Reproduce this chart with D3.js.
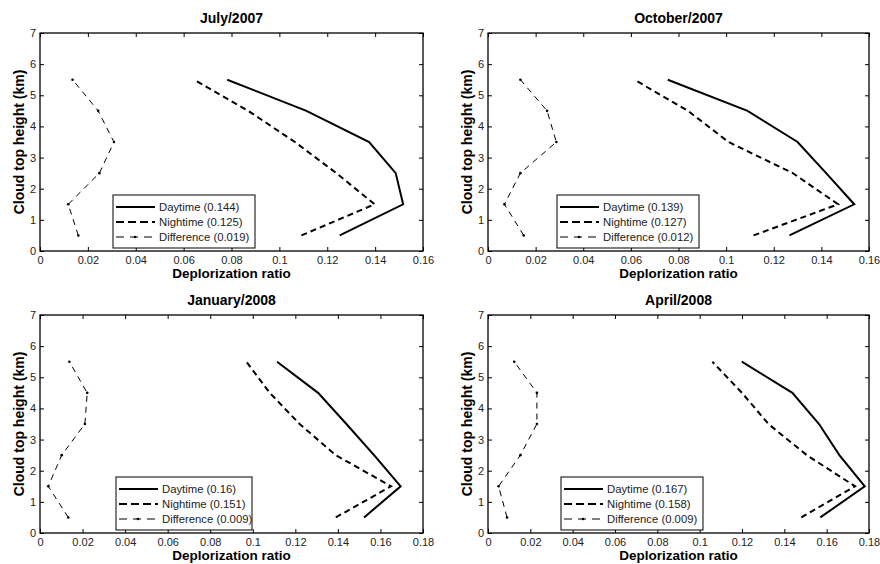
<!DOCTYPE html>
<html><head><meta charset="utf-8">
<script src="https://cdn.jsdelivr.net/npm/d3@7"></script>
<style>body{margin:0;background:#fff}svg{display:block;font-family:"Liberation Sans",Arial,sans-serif}</style>
</head><body><svg id="c" width="880" height="564"></svg>
<script>
const heights = [0.5, 1.5, 2.5, 3.5, 4.5, 5.5];
const titles = ["July/2007", "October/2007", "January/2008", "April/2008"];
const xMax = [0.16, 0.16, 0.18, 0.18];
const day = [
  [0.1252, 0.1517, 0.1486, 0.1375, 0.1113, 0.0782],
  [0.1266, 0.1538, 0.1420, 0.1300, 0.1090, 0.0755],
  [0.1523, 0.1695, 0.1570, 0.1440, 0.1307, 0.1114],
  [0.1570, 0.1780, 0.1660, 0.1564, 0.1438, 0.1199]
];
const night = [
  [0.1092, 0.1398, 0.1238, 0.1065, 0.0870, 0.0644],
  [0.1115, 0.1470, 0.1280, 0.1010, 0.0840, 0.0615],
  [0.1390, 0.1650, 0.1390, 0.1220, 0.1080, 0.0970],
  [0.1480, 0.1734, 0.1506, 0.1325, 0.1200, 0.1060]
];
const diff = [
  [0.0160, 0.0118, 0.0248, 0.0309, 0.0243, 0.0136],
  [0.0150, 0.0069, 0.0136, 0.0287, 0.0248, 0.0136],
  [0.0133, 0.0039, 0.0102, 0.0211, 0.0222, 0.0138],
  [0.0090, 0.0050, 0.0153, 0.0231, 0.0231, 0.0124]
];
const legendLabels = [
  ["Daytime (0.144)", "Nightime (0.125)", "Difference (0.019)"],
  ["Daytime (0.139)", "Nightime (0.127)", "Difference (0.012)"],
  ["Daytime (0.16)", "Nightime (0.151)", "Difference (0.009)"],
  ["Daytime (0.167)", "Nightime (0.158)", "Difference (0.009)"]
];
const yTicks = [0, 1, 2, 3, 4, 5, 6, 7];

const svg = d3.select("#c");
const panels = [
  {x0: 40, x1: 423, y0: 33, y1: 251, lx: 113, ly: 195, lw: 142},
  {x0: 488, x1: 869, y0: 33, y1: 251, lx: 557, ly: 195, lw: 142},
  {x0: 40, x1: 423, y0: 315, y1: 533, lx: 116, ly: 477, lw: 136},
  {x0: 488, x1: 869, y0: 315, y1: 533, lx: 561, ly: 477, lw: 142}
];
const styles = [
  {w: 2, dash: null},
  {w: 2, dash: "6,4"},
  {w: 1, dash: "6,5"}
];

panels.forEach((p, i) => {
  const x = d3.scaleLinear().domain([0, xMax[i]]).range([p.x0, p.x1]);
  const y = d3.scaleLinear().domain([0, 7]).range([p.y1, p.y0]);
  const g = svg.append("g");
  const xt = d3.range(0, xMax[i] + 1e-9, 0.02);
  const fmt = v => (Math.abs(v) < 1e-9 ? "0" : String(+v.toFixed(2)));

  const axB = d3.axisBottom(x).tickValues(xt).tickSize(-4).tickPadding(5).tickFormat(fmt);
  const axT = d3.axisTop(x).tickValues(xt).tickSize(-4).tickFormat("");
  const axL = d3.axisLeft(y).tickValues(yTicks).tickSize(-4).tickPadding(4).tickFormat(d3.format("d"));
  const axR = d3.axisRight(y).tickValues(yTicks).tickSize(-4).tickFormat("");
  [[axB, `translate(0,${p.y1})`], [axT, `translate(0,${p.y0})`], [axL, `translate(${p.x0},0)`], [axR, `translate(${p.x1},0)`]].forEach(([ax, tr]) => {
    const a = g.append("g").attr("transform", tr).call(ax);
    a.select(".domain").remove();
    a.selectAll("line").attr("stroke", "#000").attr("stroke-width", 1);
    a.selectAll("text").attr("font-size", 11).attr("fill", "#222").attr("font-family", "Liberation Sans, Arial, sans-serif");
  });
  g.append("rect").attr("x", p.x0).attr("y", p.y0).attr("width", p.x1 - p.x0).attr("height", p.y1 - p.y0)
    .attr("fill", "none").attr("stroke", "#000").attr("stroke-width", 1.3);

  const series = [day[i], night[i], diff[i]];
  const line = d3.line().x(d => x(d[0])).y(d => y(d[1]));
  series.forEach((s, k) => {
    const pts = s.map((v, j) => [v, heights[j]]);
    g.append("path").attr("d", line(pts)).attr("fill", "none").attr("stroke", "#000")
      .attr("stroke-width", styles[k].w).attr("stroke-dasharray", styles[k].dash)
      .attr("stroke-linejoin", "miter");
    if (k === 2) {
      g.selectAll(null).data(pts).enter().append("circle")
        .attr("cx", d => x(d[0])).attr("cy", d => y(d[1])).attr("r", 1.3).attr("fill", "#000");
    }
  });

  const cx = (p.x0 + p.x1) / 2;
  g.append("text").attr("x", cx).attr("y", p.y0 - 10).attr("text-anchor", "middle")
    .attr("font-size", 14).attr("font-weight", "bold").text(titles[i]);
  g.append("text").attr("x", cx).attr("y", p.y1 + 26.5).attr("text-anchor", "middle")
    .attr("font-size", 13.5).attr("font-weight", "bold").text("Deplorization ratio");
  g.append("text").attr("transform", `translate(${p.x0 - 16},${(p.y0 + p.y1) / 2}) rotate(-90)`)
    .attr("text-anchor", "middle").attr("font-size", 14).attr("font-weight", "bold").text("Cloud top height (km)");

  const lg = g.append("g");
  lg.append("rect").attr("x", p.lx).attr("y", p.ly).attr("width", p.lw).attr("height", 53)
    .attr("fill", "#fff").attr("stroke", "#000").attr("stroke-width", 1);
  legendLabels[i].forEach((t, k) => {
    const yy = p.ly + 12 + k * 15;
    lg.append("line").attr("x1", p.lx + 3).attr("x2", p.lx + 42).attr("y1", yy).attr("y2", yy)
      .attr("stroke", "#000").attr("stroke-width", styles[k].w).attr("stroke-dasharray", styles[k].dash ? (k === 1 ? "8,4" : "8,6") : null);
    if (k === 2) lg.append("circle").attr("cx", p.lx + 22).attr("cy", yy).attr("r", 1.3).attr("fill", "#000");
    lg.append("text").attr("x", p.lx + 46).attr("y", yy + 4).attr("font-size", 11.3).attr("fill", "#222").text(t);
  });
});
</script></body></html>
